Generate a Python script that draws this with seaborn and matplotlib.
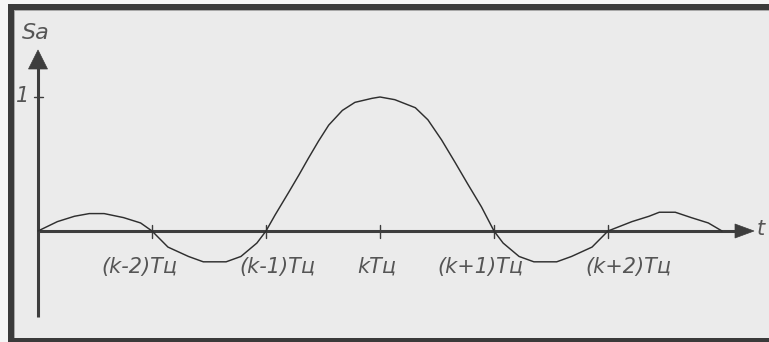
import matplotlib
matplotlib.use("Agg")
import matplotlib.pyplot as plt
from matplotlib.patches import Rectangle, Polygon
import numpy as np
import pandas as pd
import seaborn as sns

# Pulse spectrum samples: time offset in periods from kTц, amplitude Sa
t_offsets = [-3.00, -2.83, -2.68, -2.55, -2.42, -2.25, -2.10, -2.00,
             -1.86, -1.68, -1.55, -1.35, -1.22, -1.08, -1.00,
             -0.92, -0.80, -0.71, -0.63, -0.54, -0.45, -0.33, -0.22, -0.07,
             0.00, 0.13, 0.31, 0.42, 0.54, 0.66, 0.77, 0.89, 1.00,
             1.08, 1.22, 1.35, 1.55, 1.68, 1.86, 2.00,
             2.21, 2.36, 2.45, 2.59, 2.73, 2.88, 3.00]
s_values = [0.00, 0.07, 0.11, 0.13, 0.13, 0.10, 0.06, 0.00,
            -0.12, -0.19, -0.23, -0.23, -0.19, -0.09, 0.00,
            0.12, 0.29, 0.42, 0.54, 0.67, 0.79, 0.90, 0.96, 0.99,
            1.00, 0.98, 0.92, 0.83, 0.68, 0.51, 0.35, 0.18, 0.00,
            -0.09, -0.19, -0.23, -0.23, -0.19, -0.12, 0.00,
            0.07, 0.11, 0.14, 0.14, 0.10, 0.06, 0.00]

tick_positions = [-2, -1, 0, 1, 2]
tick_labels = ["(k-2)Tц", "(k-1)Tц", "kTц", "(k+1)Tц", "(k+2)Tц"]
label_shift = [-0.11, 0.10, -0.03, -0.12, 0.18]

W, H = 769, 342
X0, PX_U = 380.0, 114.0   # pixel column of kTц, pixels per period
Y0, PX_S = 231.0, 134.0   # pixel row of the time axis, pixels per unit amplitude


def u(xp):
    return (xp - X0) / PX_U


def s(yp):
    return (Y0 - yp) / PX_S


sns.set_theme(style="white")
plt.rcParams["font.family"] = ["DejaVu Sans"]

AXIS = "#3d3d3d"
CURVE = "#2f2f2f"
TEXT = "#555555"
BG = "#ebebeb"
FRAME = "#3a3a3a"

fig = plt.figure(figsize=(W / 100, H / 100), dpi=100)
fig.patch.set_facecolor("#f5f5f5")


def fig_rect(x, y, w, h, color, z):
    fig.add_artist(Rectangle((x / W, 1 - (y + h) / H), w / W, h / H,
                             transform=fig.transFigure, facecolor=color,
                             edgecolor="none", zorder=z))


# panel and frame
fig_rect(8, 4, W - 8, H - 4, BG, -10)
fig_rect(8, 4, W - 8, 6, FRAME, -9)
fig_rect(8, 4, 6, H - 4, FRAME, -9)
fig_rect(8, 338, W - 8, 4, FRAME, -9)
fig_rect(14, 10, W - 14, 1, "#a8a8a8", -9)
fig_rect(14, 10, 1, 328, "#a8a8a8", -9)

ax = fig.add_axes([0, 0, 1, 1])
ax.set_xlim(u(0), u(W))
ax.set_ylim(s(H), s(0))
ax.axis("off")
ax.patch.set_alpha(0)

df = pd.DataFrame({"t": t_offsets, "Sa": s_values})
sns.lineplot(data=df, x="t", y="Sa", ax=ax, color=CURVE, linewidth=1.05,
             zorder=4, sort=False)

# axes with arrows
ax.plot([u(38), u(38)], [s(317), s(66)], color=AXIS, lw=2.2,
        solid_capstyle="butt", zorder=3)
ax.add_patch(Polygon([(u(38), s(50)), (u(28.5), s(69)), (u(47.5), s(69))],
                     closed=True, facecolor=AXIS, edgecolor=AXIS, lw=0.5, zorder=3))
ax.plot([u(37), u(738)], [0, 0], color=AXIS, lw=2.2,
        solid_capstyle="butt", zorder=3)
ax.add_patch(Polygon([(u(754), 0), (u(735), s(224)), (u(735), s(238))],
                     closed=True, facecolor=AXIS, edgecolor=AXIS, lw=0.5, zorder=3))

# ticks
for tp in tick_positions:
    ax.plot([tp, tp], [s(225), s(238)], color=AXIS, lw=1.0, zorder=3)
ax.plot([u(34), u(43)], [1, 1], color=AXIS, lw=1.0, zorder=3)

# text
for tp, lab, dx in zip(tick_positions, tick_labels, label_shift):
    ax.text(tp + dx, s(267), lab, ha="center", va="center", fontsize=15,
            fontstyle="italic", color=TEXT, zorder=5)
ax.text(u(23), s(96), "1", ha="center", va="center", fontsize=15,
        fontstyle="italic", color=TEXT)
ax.text(u(36), s(33), "Sa", ha="center", va="center", fontsize=16,
        fontstyle="italic", color=TEXT)
ax.text(u(761), s(229), "t", ha="center", va="center", fontsize=15,
        fontstyle="italic", color=TEXT)

fig.savefig("out.png", dpi=100, facecolor=fig.get_facecolor())
